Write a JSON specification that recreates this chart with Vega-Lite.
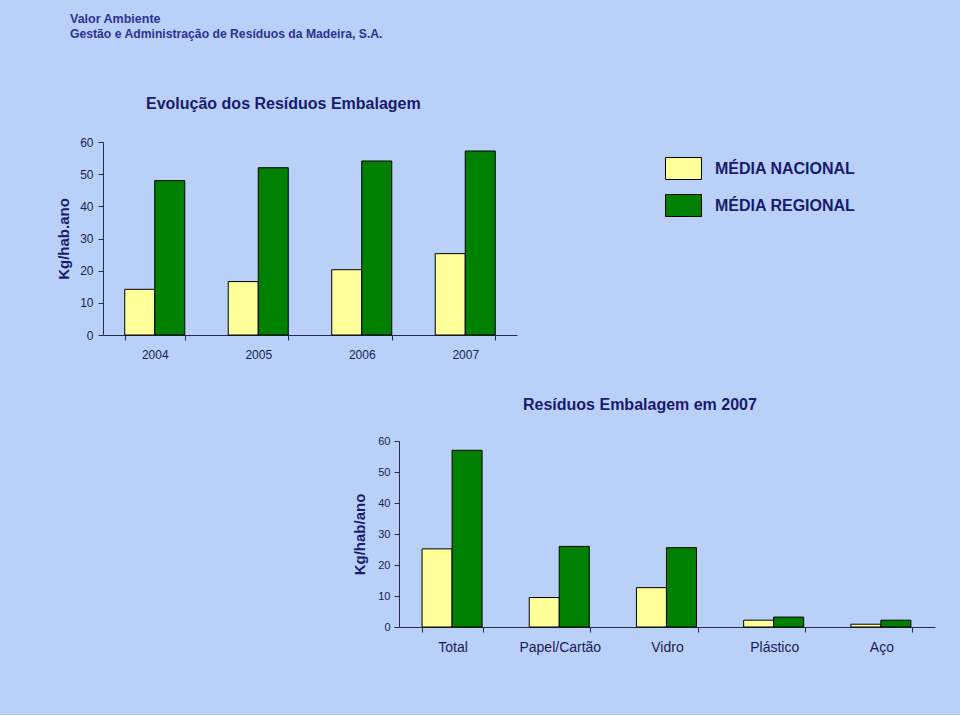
{
  "$schema": "https://vega.github.io/schema/vega-lite/v6.json",
  "background": "#b9d1f9",
  "padding": {"left": 56, "top": 13, "right": 25, "bottom": 61},
  "config": {
    "font": "Liberation Sans",
    "view": {"stroke": null},
    "axis": {"domainColor": "#2a2a4a", "tickColor": "#2a2a4a", "labelColor": "#1a1a5a", "titleColor": "#1a1a6e", "grid": false, "tickSize": 5}
  },
  "title": {
    "text": "Valor Ambiente",
    "subtitle": "Gestão e Administração de Resíduos da Madeira, S.A.",
    "anchor": "start",
    "frame": "group",
    "dx": -33,
    "font": "Liberation Sans",
    "fontSize": 12.5,
    "fontWeight": "bold",
    "color": "#2e3192",
    "subtitleFont": "Liberation Sans",
    "subtitleFontSize": 12.2,
    "subtitleFontWeight": "bold",
    "subtitleColor": "#2e3192",
    "subtitlePadding": 2,
    "offset": 56
  },
  "spacing": 37,
  "vconcat": [
    {
      "width": 414,
      "height": 193,
      "title": {"text": "Evolução dos Resíduos Embalagem", "anchor": "start", "frame": "group", "dx": 43, "fontSize": 16, "fontWeight": "bold", "color": "#1a1a6e", "offset": 24},
      "data": {"values": [
        {"year": "2004", "series": "MÉDIA NACIONAL", "value": 14.2},
        {"year": "2004", "series": "MÉDIA REGIONAL", "value": 48.0},
        {"year": "2005", "series": "MÉDIA NACIONAL", "value": 16.6},
        {"year": "2005", "series": "MÉDIA REGIONAL", "value": 52.0},
        {"year": "2006", "series": "MÉDIA NACIONAL", "value": 20.3},
        {"year": "2006", "series": "MÉDIA REGIONAL", "value": 54.1},
        {"year": "2007", "series": "MÉDIA NACIONAL", "value": 25.3},
        {"year": "2007", "series": "MÉDIA REGIONAL", "value": 57.2}
      ]},
      "mark": {"type": "bar", "stroke": "#000000", "strokeWidth": 1},
      "encoding": {
        "x": {"field": "year", "type": "nominal", "scale": {"paddingInner": 0.42, "paddingOuter": 0.21},
              "axis": {"title": null, "labelAngle": 0, "tickBand": "extent", "labelFontSize": 12, "labelPadding": 9}},
        "xOffset": {"field": "series", "type": "nominal", "scale": {"paddingInner": 0, "paddingOuter": 0}},
        "y": {"field": "value", "type": "quantitative", "scale": {"domain": [0, 60], "nice": false},
              "axis": {"title": "Kg/hab.ano", "values": [0, 10, 20, 30, 40, 50, 60], "labelFontSize": 12, "labelPadding": 5, "titleFontSize": 15, "titleFontWeight": "bold", "titlePadding": 8}},
        "color": {"field": "series", "type": "nominal", "scale": {"domain": ["MÉDIA NACIONAL", "MÉDIA REGIONAL"], "range": ["#FFFF99", "#008000"]},
                  "legend": {"title": null, "orient": "none", "legendX": 569, "legendY": 15, "padding": 0,
                             "symbolType": "M-1.636,-1H1.636V1H-1.636Z", "symbolSize": 484, "symbolStrokeColor": "#000000", "symbolStrokeWidth": 1, "symbolOpacity": 1,
                             "labelFontSize": 16, "labelFontWeight": "bold", "labelColor": "#1a1a6e", "labelOffset": 20, "rowPadding": 10, "labelLimit": 300}}
      }
    },
    {
      "spacing": 0,
      "hconcat": [
        {
          "width": 249,
          "height": 1,
          "data": {"values": [{"s": 0}]},
          "mark": {"type": "point", "opacity": 0},
          "encoding": {}
        },
        {
          "width": 536,
          "height": 186,
          "title": {"text": "Resíduos Embalagem em 2007", "anchor": "start", "frame": "group", "dx": 124, "fontSize": 16, "fontWeight": "bold", "color": "#1a1a6e", "offset": 22},
          "data": {"values": [
            {"category": "Total", "series": "MÉDIA NACIONAL", "value": 25.2},
            {"category": "Total", "series": "MÉDIA REGIONAL", "value": 57.0},
            {"category": "Papel/Cartão", "series": "MÉDIA NACIONAL", "value": 9.5},
            {"category": "Papel/Cartão", "series": "MÉDIA REGIONAL", "value": 26.0},
            {"category": "Vidro", "series": "MÉDIA NACIONAL", "value": 12.7},
            {"category": "Vidro", "series": "MÉDIA REGIONAL", "value": 25.6},
            {"category": "Plástico", "series": "MÉDIA NACIONAL", "value": 2.2},
            {"category": "Plástico", "series": "MÉDIA REGIONAL", "value": 3.2},
            {"category": "Aço", "series": "MÉDIA NACIONAL", "value": 0.9},
            {"category": "Aço", "series": "MÉDIA REGIONAL", "value": 2.2}
          ]},
          "mark": {"type": "bar", "stroke": "#000000", "strokeWidth": 1},
          "encoding": {
            "x": {"field": "category", "type": "nominal", "sort": ["Total", "Papel/Cartão", "Vidro", "Plástico", "Aço"],
                  "scale": {"paddingInner": 0.43, "paddingOuter": 0.215},
                  "axis": {"title": null, "labelAngle": 0, "tickBand": "extent", "labelFontSize": 14, "labelPadding": 8}},
            "xOffset": {"field": "series", "type": "nominal", "scale": {"paddingInner": 0, "paddingOuter": 0}},
            "y": {"field": "value", "type": "quantitative", "scale": {"domain": [0, 60], "nice": false},
                  "axis": {"title": "Kg/hab/ano", "values": [0, 10, 20, 30, 40, 50, 60], "labelFontSize": 11, "labelPadding": 4, "titleFontSize": 15, "titleFontWeight": "bold", "titlePadding": 10}},
            "color": {"field": "series", "type": "nominal", "scale": {"domain": ["MÉDIA NACIONAL", "MÉDIA REGIONAL"], "range": ["#FFFF99", "#008000"]}, "legend": null}
          }
        }
      ]
    }
  ]
}
